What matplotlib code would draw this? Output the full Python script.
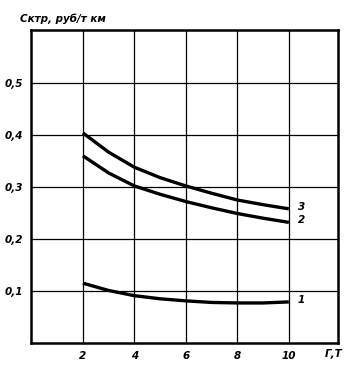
import matplotlib.pyplot as plt
import numpy as np

# values (x = Г, т ; y = Cктр, руб/т км)
g = [2, 3, 4, 5, 6, 7, 8, 9, 10]
c1 = [0.115, 0.101, 0.091, 0.085, 0.081, 0.078, 0.077, 0.077, 0.079]
c2 = [0.360, 0.327, 0.302, 0.286, 0.272, 0.260, 0.249, 0.240, 0.232]
c3 = [0.404, 0.367, 0.338, 0.318, 0.302, 0.288, 0.275, 0.266, 0.258]
curve_names = ["1", "2", "3"]

xticks = [2, 4, 6, 8, 10]
yticks = [0.1, 0.2, 0.3, 0.4, 0.5]
ytick_labels = ["0,1", "0,2", "0,3", "0,4", "0,5"]

font = dict(fontweight="bold", fontstyle="italic", fontsize=7.5)

fig = plt.figure(figsize=(3.57, 3.70), dpi=100)
ax = fig.add_axes([0.088, 0.073, 0.858, 0.846])

for c, name in zip([c1, c2, c3], curve_names):
    ax.plot(g, c, color="black", linewidth=2.4,
            solid_capstyle="butt", solid_joinstyle="round")
    ax.text(g[-1] + 0.35, c[-1] + 0.004, name, va="center", ha="left", **font)

ax.set_xlim(0, 11.9)
ax.set_ylim(0, 0.602)
ax.set_xticks(xticks)
ax.set_xticklabels([str(v) for v in xticks], **font)
ax.set_yticks(yticks)
ax.set_yticklabels(ytick_labels, **font)
ax.tick_params(length=0, pad=6)
ax.grid(True, color="black", linewidth=0.9)
ax.set_axisbelow(True)
for s in ax.spines.values():
    s.set_linewidth(1.8)

ax.text(11.75, -0.012, "Г,Т", ha="center", va="top", **font)
fig.text(0.055, 0.948, "Cктр, руб/т км", ha="left", va="center", **font)

fig.savefig("out.png", dpi=100)
